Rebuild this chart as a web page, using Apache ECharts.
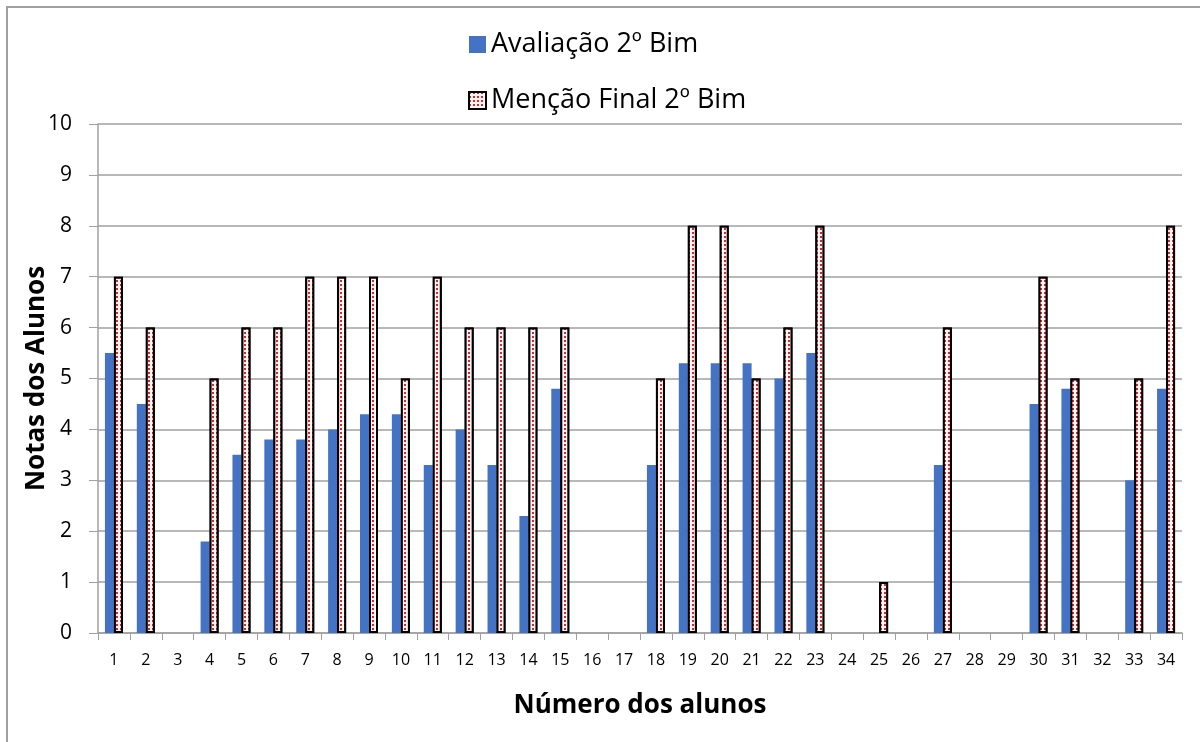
<!DOCTYPE html>
<html>
<head>
<meta charset="utf-8">
<script src="https://cdn.jsdelivr.net/npm/echarts@6/dist/echarts.min.js"></script>
<style>
  html, body { margin: 0; padding: 0; background: #fff; }
  #chart { width: 1200px; height: 742px; }
</style>
</head>
<body>
<div id="chart"></div>
<script>
// Student numbers along the x axis
const alunos = ['1','2','3','4','5','6','7','8','9','10','11','12','13','14','15','16','17',
  '18','19','20','21','22','23','24','25','26','27','28','29','30','31','32','33','34'];

// Grades of the 2nd bimester exam (null = no grade)
const avaliacao = [5.5, 4.5, null, 1.8, 3.5, 3.8, 3.8, 4.0, 4.3, 4.3, 3.3, 4.0, 3.3, 2.3, 4.8, null, null,
  3.3, 5.3, 5.3, 5.3, 5.0, 5.5, null, null, null, 3.3, null, null, 4.5, 4.8, null, 3.0, 4.8];

// Final marks of the 2nd bimester (null = no mark)
const mencaoFinal = [7, 6, null, 5, 6, 6, 7, 7, 7, 5, 7, 6, 6, 6, 6, null, null,
  5, 8, 8, 5, 6, 8, null, 1, null, 6, null, null, 7, 5, null, 5, 8];

const yTicks = [0, 1, 2, 3, 4, 5, 6, 7, 8, 9, 10];

const font = '"Open Sans", "Noto Sans", sans-serif';
const chart = echarts.init(document.getElementById('chart'), null, { renderer: 'canvas' });

// Red dotted fill for the final-mark bars
const dotted = {
  symbol: 'rect',
  symbolSize: 1,
  color: '#d42a2a',
  backgroundColor: '#fff4f4',
  dashArrayX: [1.5, 1.5],
  dashArrayY: [1.5, 1.5],
  rotation: 0
};

chart.setOption({
  animation: false,
  backgroundColor: '#ffffff',
  textStyle: { fontFamily: font },
  graphic: [{
    type: 'rect',
    shape: { x: 7, y: 7, width: 1300, height: 900 },
    style: { fill: 'none', stroke: '#a0a0a0', lineWidth: 2 },
    silent: true
  }],
  legend: {
    orient: 'vertical',
    left: 463,
    top: 26,
    itemGap: 29,
    itemWidth: 17,
    itemHeight: 17,
    icon: 'rect',
    textStyle: { fontSize: 27, color: '#000', fontFamily: font },
    data: ['Avaliação 2º Bim', 'Menção Final 2º Bim']
  },
  grid: { left: 98, right: 18, top: 124, bottom: 109, containLabel: false },
  xAxis: {
    type: 'category',
    data: alunos,
    name: 'Número dos alunos',
    nameLocation: 'middle',
    nameGap: 60,
    nameMoveOverlap: false,
    nameTextStyle: { fontSize: 26, fontWeight: 'bold', color: '#000', fontFamily: font },
    axisLine: { lineStyle: { color: '#a0a0a0', width: 1.5 } },
    axisTick: { show: true, alignWithLabel: false, length: 7, lineStyle: { color: '#a0a0a0' } },
    axisLabel: { fontSize: 16, color: '#000', margin: 19, interval: 0 }
  },
  yAxis: {
    type: 'value',
    min: 0,
    max: 10,
    interval: 1,
    name: 'Notas dos Alunos',
    nameLocation: 'middle',
    nameGap: 48,
    nameMoveOverlap: false,
    nameTextStyle: { fontSize: 26, fontWeight: 'bold', color: '#000', fontFamily: font },
    axisLine: { show: true, lineStyle: { color: '#a0a0a0', width: 1.5 } },
    axisTick: { show: true, length: 9, lineStyle: { color: '#a0a0a0' } },
    axisLabel: {
      fontSize: 21, color: '#000', margin: 26,
      formatter: v => (yTicks.includes(v) ? String(v) : '')
    },
    splitLine: { lineStyle: { color: '#a0a0a0', width: 1.5 } }
  },
  series: [
    {
      name: 'Avaliação 2º Bim',
      type: 'bar',
      data: avaliacao,
      barWidth: 9,
      barGap: '0%',
      itemStyle: { color: '#4472c4' }
    },
    {
      name: 'Menção Final 2º Bim',
      type: 'bar',
      data: mencaoFinal,
      barWidth: 9,
      barGap: '0%',
      itemStyle: {
        color: '#fff4f4',
        borderColor: '#000000',
        borderWidth: 2,
        decal: dotted
      }
    }
  ]
});
</script>
</body>
</html>
